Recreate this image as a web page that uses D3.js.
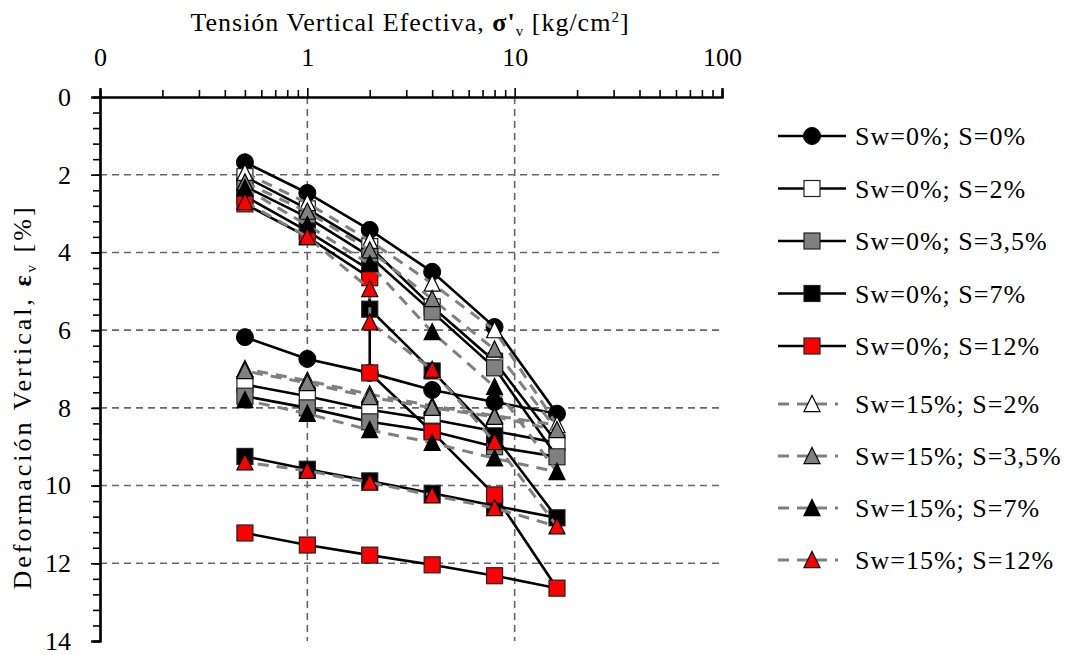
<!DOCTYPE html>
<html>
<head>
<meta charset="utf-8">
<script src="https://cdn.jsdelivr.net/npm/d3@7"></script>
<style>
  body { margin: 0; background: #fff; }
  svg text { font-family: "Liberation Serif", "DejaVu Serif", serif; fill: #000; }
</style>
</head>
<body>
<div id="chart"></div>
<script>
// stress paths (kg/cm2): load, (wetting at 2), unload
var pathNormal = [0.5, 1, 2, 4, 8, 16, 8, 4, 2, 1, 0.5];
var pathCollapse = [0.5, 1, 2, 2, 4, 8, 16, 8, 4, 2, 1, 0.5];

// vertical strain (%)
var sw0s0 = [1.68, 2.47, 3.42, 4.5, 5.92, 8.15, 7.85, 7.54, 7.1, 6.74, 6.18];
var sw0s2 = [2.05, 2.88, 3.85, 5.4, 6.8, 8.9, 8.6, 8.3, 8.05, 7.7, 7.4];
var sw0s35 = [2.3, 3.1, 4.1, 5.53, 6.97, 9.26, 9.0, 8.6, 8.36, 8.0, 7.7];
var sw0s7 = [2.55, 3.45, 4.45, 5.46, 7.05, 8.72, 10.83, 10.52, 10.2, 9.88, 9.58, 9.25];
var sw0s12 = [2.75, 3.6, 4.65, 7.1, 8.62, 10.24, 12.64, 12.32, 12.04, 11.79, 11.53, 11.22];
var sw15s2 = [1.95, 2.73, 3.7, 4.8, 6.0, 8.44, 8.2, 7.95, 7.65, 7.3, 7.0];
var sw15s35 = [2.2, 2.95, 3.95, 5.2, 6.5, 8.57, 8.23, 8.0, 7.72, 7.36, 7.05];
var sw15s7 = [2.35, 3.3, 4.3, 6.05, 7.46, 9.65, 9.3, 8.9, 8.57, 8.15, 7.8];
var sw15s12 = [2.7, 3.6, 4.94, 5.8, 7.02, 8.88, 11.05, 10.58, 10.25, 9.92, 9.62, 9.4];

var seriesNames = ["Sw=0%; S=0%", "Sw=0%; S=2%", "Sw=0%; S=3,5%", "Sw=0%; S=7%", "Sw=0%; S=12%",
                   "Sw=15%; S=2%", "Sw=15%; S=3,5%", "Sw=15%; S=7%", "Sw=15%; S=12%"];

var xTicks = [0.1, 1, 10, 100];
var yTicks = [0, 2, 4, 6, 8, 10, 12, 14];

var series = [
  {name: seriesNames[0], x: pathNormal, y: sw0s0, shape: "circle", fill: "#000", dashed: false},
  {name: seriesNames[1], x: pathNormal, y: sw0s2, shape: "square", fill: "#fff", dashed: false},
  {name: seriesNames[2], x: pathNormal, y: sw0s35, shape: "square", fill: "#808080", dashed: false},
  {name: seriesNames[3], x: pathCollapse, y: sw0s7, shape: "square", fill: "#000", dashed: false},
  {name: seriesNames[4], x: pathCollapse, y: sw0s12, shape: "square", fill: "#ff0000", dashed: false},
  {name: seriesNames[5], x: pathNormal, y: sw15s2, shape: "triangle", fill: "#fff", dashed: true},
  {name: seriesNames[6], x: pathNormal, y: sw15s35, shape: "triangle", fill: "#808080", dashed: true},
  {name: seriesNames[7], x: pathNormal, y: sw15s7, shape: "triangle", fill: "#000", dashed: true},
  {name: seriesNames[8], x: pathCollapse, y: sw15s12, shape: "triangle", fill: "#ff0000", dashed: true}
];

var width = 1069, height = 655;
var plotL = 100, plotR = 722, plotT = 97, plotB = 641;

var svg = d3.select("#chart").append("svg")
  .attr("width", width)
  .attr("height", height);

var x = d3.scaleLog().domain([0.1, 100]).range([plotL, plotR]);
var y = d3.scaleLinear().domain([0, 14]).range([plotT, plotB]);

// grid
var grid = svg.append("g").attr("class", "grid")
  .attr("stroke", "#666").attr("stroke-width", 1.6).attr("stroke-dasharray", "7,5");
grid.selectAll("line.h")
  .data(yTicks.filter(function(d){ return d > 0 && d < 14; }))
  .enter().append("line")
  .attr("x1", plotL).attr("x2", plotR)
  .attr("y1", function(d){ return y(d); }).attr("y2", function(d){ return y(d); });
grid.selectAll("line.v")
  .data([1, 10])
  .enter().append("line")
  .attr("y1", plotT).attr("y2", plotB)
  .attr("x1", function(d){ return x(d); }).attr("x2", function(d){ return x(d); });

// axes
var minorX = [];
[0.1, 1, 10].forEach(function(dec){
  for (var k = 2; k <= 9; k++) minorX.push(dec * k);
});
var xAxis = svg.append("g")
  .attr("transform", "translate(0," + plotT + ")")
  .call(d3.axisTop(x).tickValues(xTicks).tickSize(9).tickPadding(22)
    .tickFormat(function(d){ return d === 0.1 ? "0" : d; }));
svg.append("g")
  .attr("transform", "translate(0," + plotT + ")")
  .call(d3.axisTop(x).tickValues(minorX).tickSize(7).tickFormat(""));

var minorY = d3.range(0, 14.01, 0.4).map(function(d){ return Math.round(d * 10) / 10; });
var yAxis = svg.append("g")
  .attr("transform", "translate(" + plotL + ",0)")
  .call(d3.axisLeft(y).tickValues(yTicks).tickSize(9).tickPadding(20));
svg.append("g")
  .attr("transform", "translate(" + plotL + ",0)")
  .call(d3.axisLeft(y).tickValues(minorY).tickSize(7).tickFormat(""));

svg.selectAll(".domain").attr("stroke", "#000").attr("stroke-width", 2.2);
svg.selectAll(".tick line").attr("stroke", "#000").attr("stroke-width", 1.6);
svg.selectAll(".tick text").style("font-size", "26px").style("font-family", "'Liberation Serif', serif");
xAxis.selectAll(".tick text").attr("dy", "0");

// titles
var xt = svg.append("text")
  .attr("x", 410).attr("y", 31)
  .attr("text-anchor", "middle")
  .style("font-size", "26px")
  .style("letter-spacing", "1px");
xt.append("tspan").text("Tensión Vertical Efectiva, ");
xt.append("tspan").text("σ'").style("font-weight", "bold");
xt.append("tspan").text("v").attr("dy", 5).style("font-size", "15px");
xt.append("tspan").text(" [kg/cm").attr("dy", -5);
xt.append("tspan").text("2").attr("dy", -9).style("font-size", "15px");
xt.append("tspan").text("]").attr("dy", 9);

var yt = svg.append("text")
  .attr("transform", "translate(31,397) rotate(-90)")
  .attr("text-anchor", "middle")
  .style("font-size", "26px")
  .style("letter-spacing", "3px");
yt.append("tspan").text("Deformación Vertical, ");
yt.append("tspan").text("ε").style("font-weight", "bold");
yt.append("tspan").text("v").attr("dy", 5).style("font-size", "15px");
yt.append("tspan").text(" [%]").attr("dy", -5);

// markers
function drawMarker(g, shape, fill, cx, cy, sz) {
  if (shape === "circle") {
    g.append("circle").attr("cx", cx).attr("cy", cy).attr("r", sz / 2)
      .attr("fill", fill).attr("stroke", "#000").attr("stroke-width", 1);
  } else if (shape === "square") {
    g.append("rect").attr("x", cx - sz / 2).attr("y", cy - sz / 2)
      .attr("width", sz).attr("height", sz)
      .attr("fill", fill).attr("stroke", "#222").attr("stroke-width", 1.2);
  } else {
    var h = sz * 0.95;
    var pts = [[cx, cy - h / 2 - 1], [cx + sz / 2, cy + h / 2], [cx - sz / 2, cy + h / 2]];
    g.append("path").attr("d", "M" + pts.join("L") + "Z")
      .attr("fill", fill).attr("stroke", "#000").attr("stroke-width", 1.2);
  }
}

var line = d3.line()
  .x(function(d){ return x(d[0]); })
  .y(function(d){ return y(d[1]); });

var plot = svg.append("g").attr("class", "series");
series.forEach(function(s){
  var pts = s.x.map(function(v, i){ return [v, s.y[i]]; });
  var g = plot.append("g");
  g.append("path")
    .datum(pts)
    .attr("d", line)
    .attr("fill", "none")
    .attr("stroke", s.dashed ? "#808080" : "#000")
    .attr("stroke-width", s.dashed ? 3 : 2.6)
    .attr("stroke-dasharray", s.dashed ? "11,8" : null);
  pts.forEach(function(p){
    drawMarker(g, s.shape, s.fill, x(p[0]), y(p[1]), s.shape === "circle" ? 17 : 16);
  });
});

// legend
var legend = svg.append("g").attr("class", "legend");
series.forEach(function(s, i){
  var ly = i < 5 ? 136 + i * 52.5 : 404 + (i - 5) * 52;
  var g = legend.append("g");
  if (s.dashed) {
    g.append("line").attr("x1", 778).attr("x2", 838).attr("y1", ly).attr("y2", ly)
      .attr("stroke", "#808080").attr("stroke-width", 3).attr("stroke-dasharray", "11,8");
  } else {
    g.append("line").attr("x1", 778).attr("x2", 846).attr("y1", ly).attr("y2", ly)
      .attr("stroke", "#000").attr("stroke-width", 2.6);
  }
  drawMarker(g, s.shape, s.fill, 812, ly, s.shape === "circle" ? 17 : 16);
  g.append("text").attr("x", 855).attr("y", ly).attr("dy", "0.35em")
    .style("font-size", "26px").style("letter-spacing", "1px").text(s.name);
});
</script>
</body>
</html>
